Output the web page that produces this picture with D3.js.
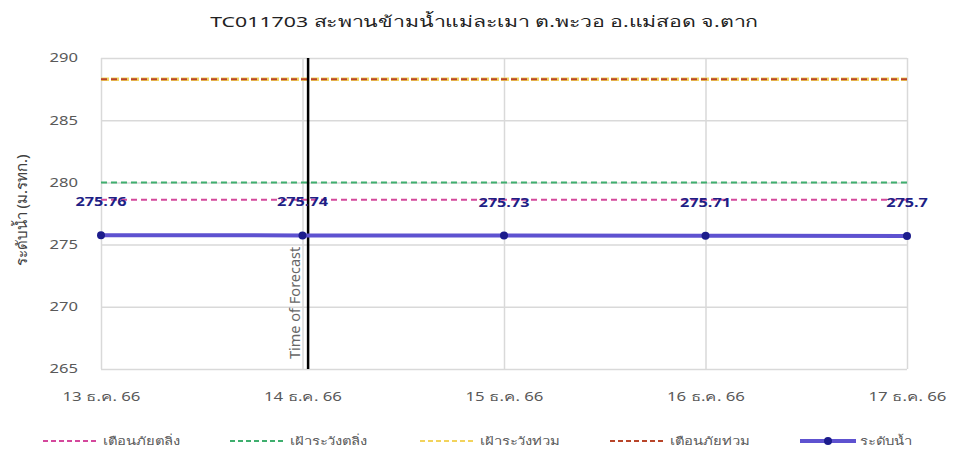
<!DOCTYPE html>
<html><head><meta charset="utf-8">
<script src="https://cdn.jsdelivr.net/npm/d3@7"></script>
<style>body{margin:0;background:#fff}text{font-family:"Noto Sans","DejaVu Sans",sans-serif}</style>
</head><body><svg id="c" width="953" height="461"></svg>
<script>
const title = "TC011703 สะพานข้ามน้ำแม่ละเมา ต.พะวอ อ.แม่สอด จ.ตาก";
const yLabel = "ระดับน้ำ (ม.รทก.)";
const dates = ["2023-12-13","2023-12-14","2023-12-15","2023-12-16","2023-12-17"];
const dateLabels = ["13 ธ.ค. 66","14 ธ.ค. 66","15 ธ.ค. 66","16 ธ.ค. 66","17 ธ.ค. 66"];
const waterLevel = [275.76, 275.74, 275.73, 275.71, 275.7];
const yTicks = [265, 270, 275, 280, 285, 290];
const forecastTime = "2023-12-14T00:40";
const thresholdNames = ["เตือนภัยตลิ่ง","เฝ้าระวังตลิ่ง","เฝ้าระวังท่วม","เตือนภัยท่วม"];
const thresholdValues = [278.6, 280.0, 288.3, 288.3];
const thresholdColors = ["#d4489c","#3fae6e","#f2d35c","#b8452a"];
const waterName = "ระดับน้ำ";

const svg = d3.select("#c");
const L=101,R=907,T=58,B=369;
const parse = d3.isoParse;
const x = d3.scaleTime().domain([parse(dates[0]), parse(dates[dates.length-1])]).range([L,R]);
const y = d3.scaleLinear().domain([265,290]).range([B,T]);

function stretch(sel, s){
  sel.each(function(){
    const bb=this.getBBox();
    const a=d3.select(this).attr("text-anchor") || getComputedStyle(this).textAnchor;
    const ax = a==="middle"? bb.x+bb.width/2 : a==="end"? bb.x+bb.width : bb.x;
    d3.select(this).attr("transform",`translate(${ax},0) scale(${s},1) translate(${-ax},0)`);
  });
}

const tTitle = svg.append("text").attr("x",484).attr("y",27).attr("text-anchor","middle")
  .attr("font-size",15).attr("fill","#222").text(title);
stretch(tTitle,1.42);

// grid
const gy = svg.append("g").attr("transform",`translate(${L},0)`)
  .call(d3.axisLeft(y).tickValues(yTicks).tickSize(-(R-L)).tickPadding(23).tickFormat(d3.format("d")));
gy.select(".domain").remove();
gy.selectAll("line").attr("stroke","#d9d9d9").attr("stroke-width",1.5);
gy.selectAll("text").attr("font-size",12).attr("fill","#595959").attr("text-anchor","end");
stretch(gy.selectAll("text"),1.38);

const gx = svg.append("g").attr("transform",`translate(0,${B})`)
  .call(d3.axisBottom(x).tickValues(dates.map(parse)).tickSize(-(B-T)).tickPadding(23).tickFormat((d,i)=>dateLabels[i]));
gx.select(".domain").remove();
gx.selectAll("line").attr("stroke","#d9d9d9").attr("stroke-width",1.5);
gx.selectAll("text").attr("font-size",12).attr("fill","#595959").attr("text-anchor","middle");
stretch(gx.selectAll("text"),1.4);

// thresholds
const dashes = ["6,4","6,4","8,2","6,4"];
const widths = [2,2,3.5,2];
[2,3,1,0].forEach(i=>{
  svg.append("line").attr("x1",L).attr("x2",R).attr("y1",y(thresholdValues[i])).attr("y2",y(thresholdValues[i]))
   .attr("stroke",thresholdColors[i]).attr("stroke-width",widths[i]).attr("stroke-dasharray",dashes[i]);
});

// forecast line
const fx = x(parse(forecastTime));
svg.append("line").attr("x1",fx).attr("x2",fx).attr("y1",T).attr("y2",B).attr("stroke","#000").attr("stroke-width",2.5);
svg.append("text").attr("transform",`translate(${fx-8},${B-10}) rotate(-90)`).attr("font-size",14.5)
  .attr("fill","#666").text("Time of Forecast");

// water line
const pts = dates.map((d,i)=>({x:x(parse(d)),y:y(waterLevel[i]),v:waterLevel[i]}));
svg.append("path").attr("d",d3.line().x(d=>d.x).y(d=>d.y)(pts)).attr("fill","none")
  .attr("stroke","#5e52d0").attr("stroke-width",4);
svg.selectAll(".pt").data(pts).join("circle").attr("cx",d=>d.x).attr("cy",d=>d.y).attr("r",4).attr("fill","#1c1c8c");
const labs = svg.selectAll(".lab").data(pts).join("text").attr("x",d=>d.x).attr("y",d=>d.y-29).attr("text-anchor","middle")
  .attr("font-size",12.5).attr("font-weight","bold").attr("fill","#1f1f86").text(d=>d.v);
stretch(labs,1.3);

// y label
svg.append("text").attr("transform",`translate(27,${(T+B)/2-3}) rotate(-90)`).attr("text-anchor","middle")
  .attr("font-size",15).attr("fill","#404040").text(yLabel);

// legend
const legX = [43,230,420,610,800];
const ly = 441;
thresholdNames.forEach((n,i)=>{
  svg.append("line").attr("x1",legX[i]).attr("x2",legX[i]+56).attr("y1",ly).attr("y2",ly)
    .attr("stroke",thresholdColors[i]).attr("stroke-width",2).attr("stroke-dasharray","5,3");
  const t = svg.append("text").attr("x",legX[i]+60).attr("y",ly+4).attr("font-size",11).attr("fill","#595959").text(n);
  stretch(t,1.35);
});
svg.append("line").attr("x1",legX[4]).attr("x2",legX[4]+56).attr("y1",ly).attr("y2",ly).attr("stroke","#5e52d0").attr("stroke-width",4);
svg.append("circle").attr("cx",legX[4]+28).attr("cy",ly).attr("r",4).attr("fill","#1c1c8c");
stretch(svg.append("text").attr("x",legX[4]+60).attr("y",ly+4).attr("font-size",11).attr("fill","#595959").text(waterName),1.35);
</script></body></html>
